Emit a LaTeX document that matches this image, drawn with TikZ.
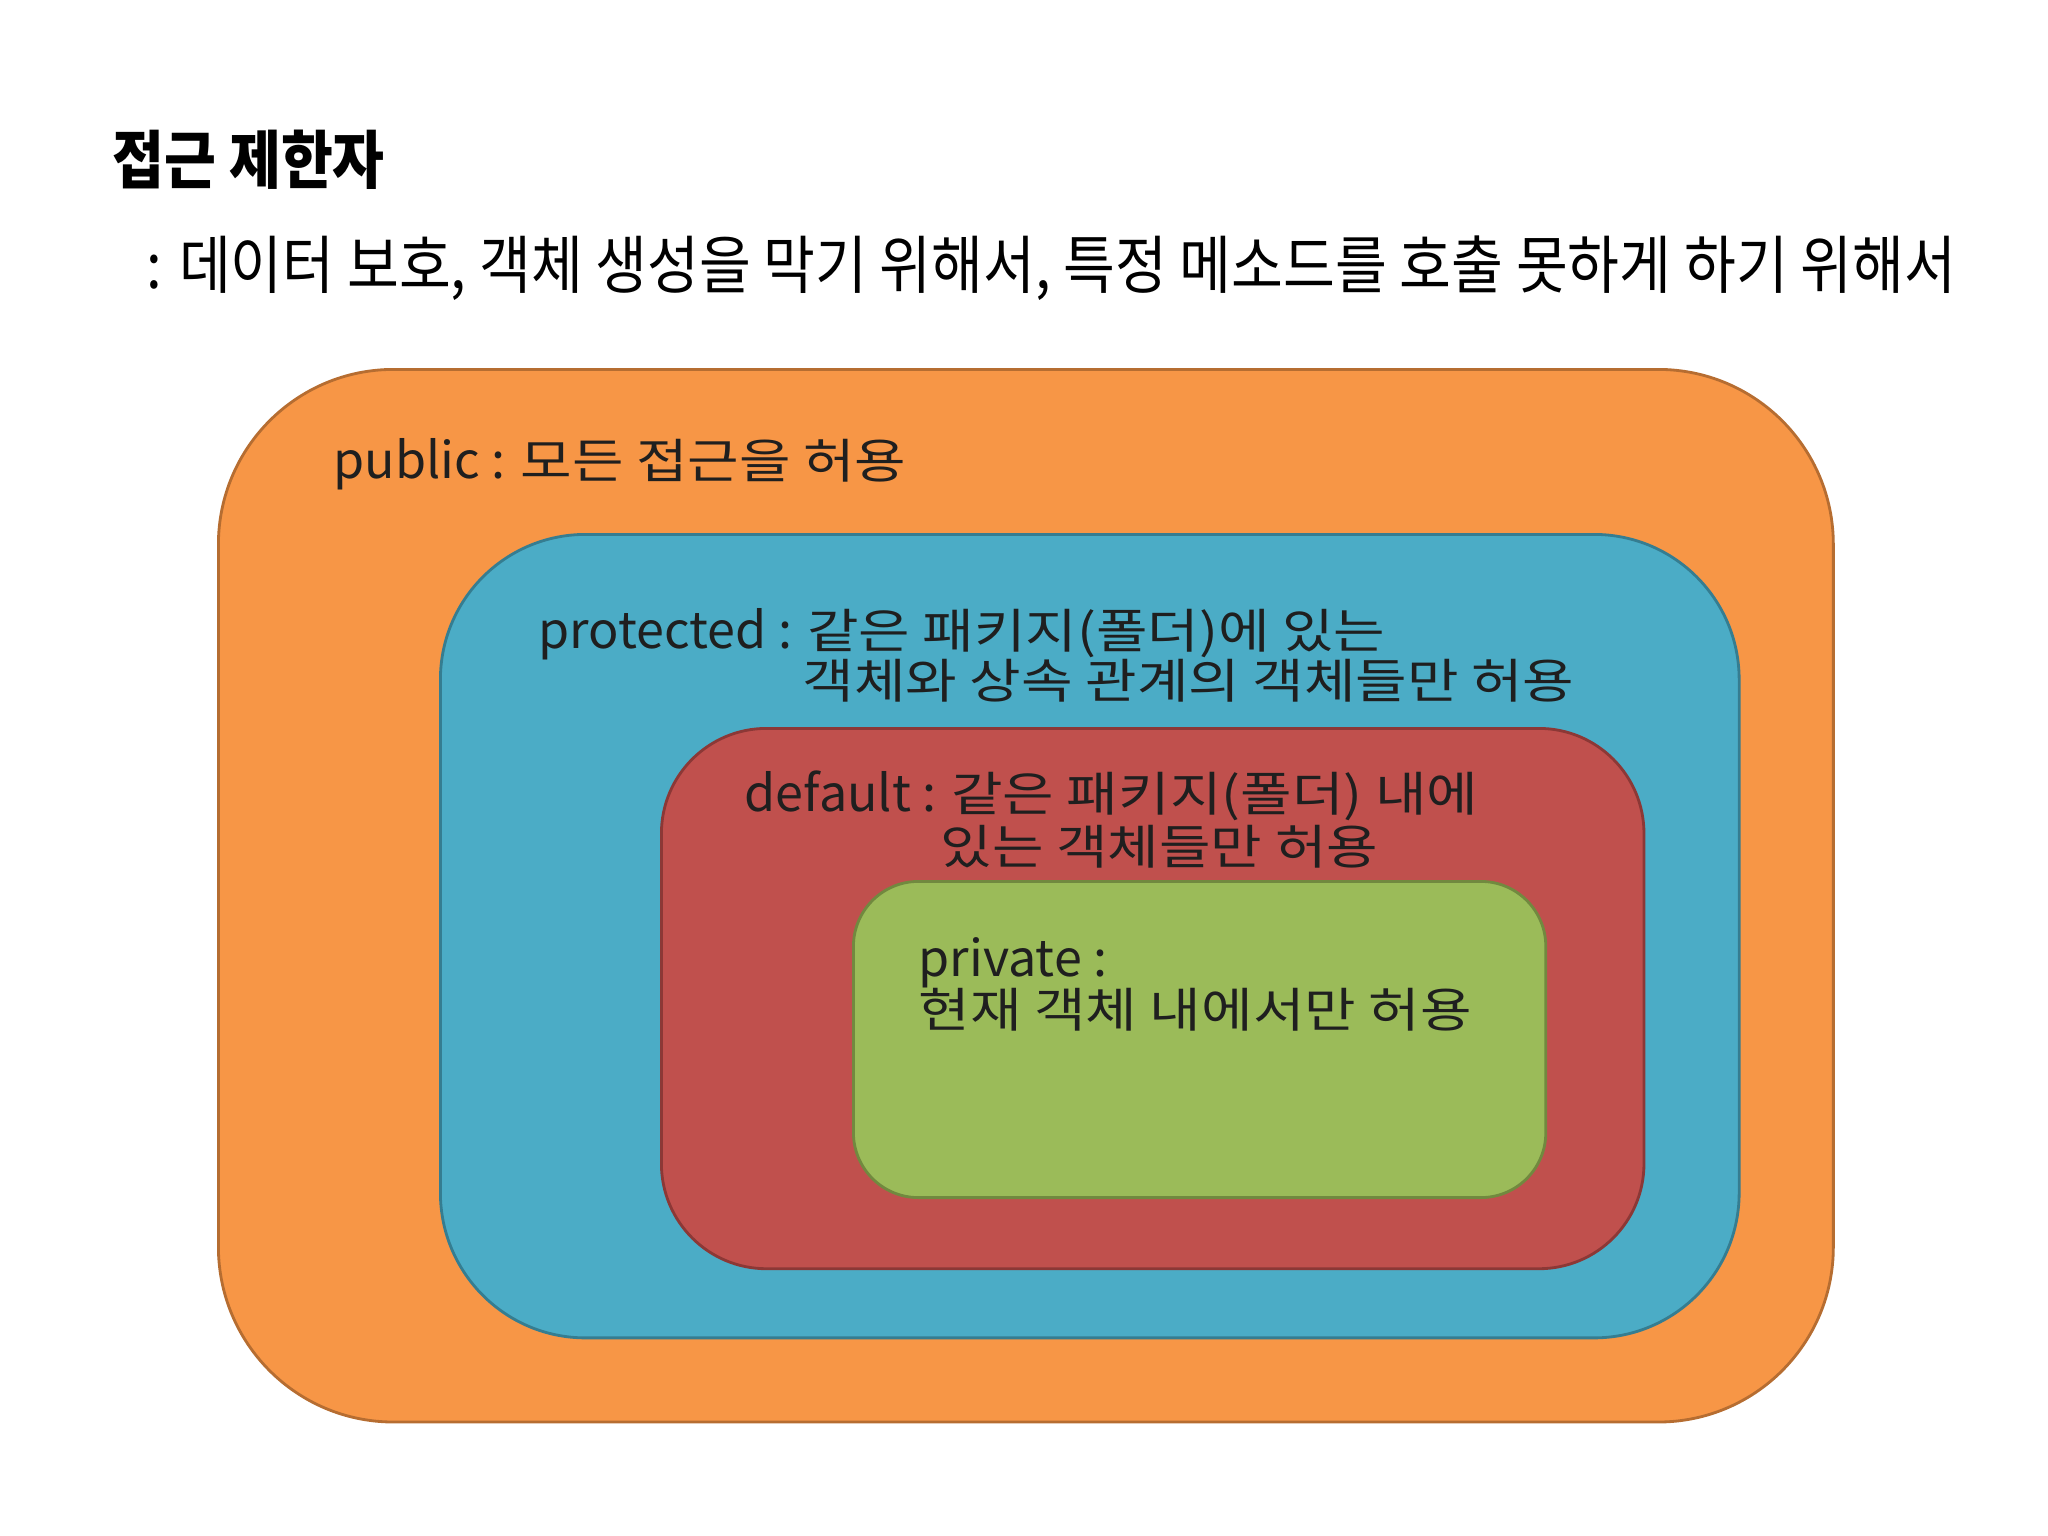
\documentclass[tikz,border=0pt]{standalone}
\usepackage{fontspec}
\setmainfont{Noto Sans CJK KR}
\newfontfamily\headfont[FakeStretch=0.89]{Noto Sans CJK KR}
\newfontfamily\krfont[FakeStretch=1.18]{Noto Sans CJK KR}
\newcommand{\kr}[1]{{\krfont\fontsize{13.5}{17}\selectfont #1}}
\definecolor{pubfill}{HTML}{F79646}
\definecolor{publine}{HTML}{B66D31}
\definecolor{profill}{HTML}{4BACC6}
\definecolor{proline}{HTML}{357D91}
\definecolor{deffill}{HTML}{C0504D}
\definecolor{defline}{HTML}{8C3836}
\definecolor{prifill}{HTML}{9BBB59}
\definecolor{priline}{HTML}{71893F}
\tikzset{
  zone/.style={rectangle, rounded corners=#1, line width=0.8pt, anchor=north west, inner sep=0pt},
  txt/.style={anchor=base west, inner sep=0pt, text=black!88, font=\fontsize{14.3}{17}\selectfont},
  head/.style={anchor=base west, inner sep=0pt, text=black}
}

\begin{document}
\begin{tikzpicture}[x=0.01cm,y=-0.01cm]
  \useasboundingbox (0,0) rectangle (2048,1536);
  \node[head, font=\headfont\fontsize{18}{21}\selectfont\bfseries] (title) at (112,183) {접근 제한자};
  \node[head, font=\headfont\fontsize{18}{21}\selectfont] (sub) at (146,288)
    {: 데이터 보호, 객체 생성을 막기 위해서, 특정 메소드를 호출 못하게 하기 위해서};
  % nested access levels
  \node[zone=1.75cm, fill=pubfill, draw=publine, minimum width=16.14cm, minimum height=10.52cm] (pub) at (217,368) {};
  \node[zone=1.45cm, fill=profill, draw=proline, minimum width=12.98cm, minimum height=8.03cm] (pro) at (439,533) {};
  \node[zone=1.05cm, fill=deffill, draw=defline, minimum width=9.82cm, minimum height=5.40cm] (def) at (660,727) {};
  \node[zone=0.65cm, fill=prifill, draw=priline, minimum width=6.92cm, minimum height=3.16cm] (pri) at (852,880) {};
  \node[txt] (pubtxt) at (333,478) {public : \kr{모든 접근을 허용}};
  \node[txt] (protxt) at (538,648) {protected : \kr{같은 패키지(폴더)에 있는}};
  \node[txt] (protxt2) at (802,698) {\kr{객체와 상속 관계의 객체들만 허용}};
  \node[txt] (deftxt) at (744,811) {default : \kr{같은 패키지(폴더) 내에}};
  \node[txt] (deftxt2) at (940,864) {\kr{있는 객체들만 허용}};
  \node[txt] (pritxt) at (918,976) {private :};
  \node[txt] (pritxt2) at (918,1027) {\kr{현재 객체 내에서만 허용}};
\end{tikzpicture}
\end{document}
